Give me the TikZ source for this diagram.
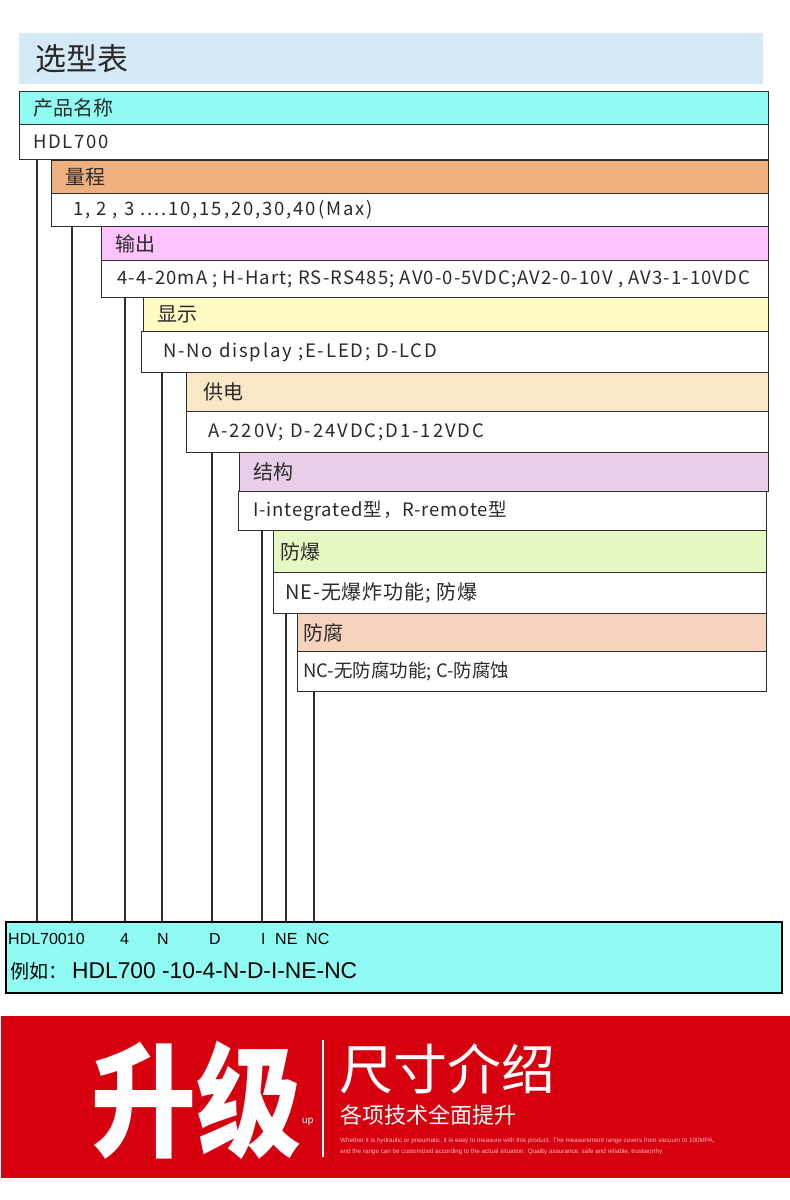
\documentclass[tikz,border=0pt]{standalone}
\usepackage{fontspec}
\setmainfont{Liberation Sans}
\newfontfamily\cjk{Noto Sans CJK SC}
\usetikzlibrary{positioning}

\definecolor{titlebg}{HTML}{D6E9F6}
\definecolor{cyanbg}{HTML}{8FFBF2}
\definecolor{orangebg}{HTML}{F0B07E}
\definecolor{pinkbg}{HTML}{FCC4FA}
\definecolor{yellowbg}{HTML}{FFFAC4}
\definecolor{beigebg}{HTML}{F9E8C6}
\definecolor{purplebg}{HTML}{E8CEE8}
\definecolor{greenbg}{HTML}{E6F8C2}
\definecolor{salmonbg}{HTML}{F7D2BE}
\definecolor{bannerred}{HTML}{D7000F}
\definecolor{cellline}{HTML}{2E2E2E}
\definecolor{txtgray}{HTML}{2A2A2A}
\definecolor{finepink}{HTML}{F6B8BC}

\begin{document}
\begin{tikzpicture}[
    x=1pt, y=-1pt,
    cell/.style={draw=cellline, line width=1.3pt, anchor=north west, inner sep=0pt},
    hdrtext/.style={anchor=west, inner sep=0pt, text=txtgray, font=\cjk\fontsize{20}{20}\selectfont},
    valtext/.style={anchor=west, inner sep=0pt, text=txtgray, font=\cjk\fontsize{18.5}{18.5}\selectfont\addfontfeatures{LetterSpace=#1}},
    valtext/.default=0,
    codetext/.style={anchor=west, inner sep=0pt, text=black, font=\fontsize{16}{16}\selectfont},
    wire/.style={draw=cellline, line width=1.4pt}
]

\useasboundingbox (0,0) rectangle (790,1200);
\fill[white] (0,0) rectangle (790,1200);

% title bar
\node[cell, draw=none, fill=titlebg, minimum width=744, minimum height=51] (title) at (18,32) {};
\node[hdrtext, font=\cjk\fontsize{31}{31}\selectfont] (titletxt) at (35,59) {选型表};

% selection table, one step per option
\node[cell, fill=cyanbg, minimum width=749, minimum height=33] (r1h) at (19,91) {};
\node[hdrtext] (r1ht) at ([xshift=14]r1h.west) {产品名称};
\node[cell, fill=white, minimum width=749, minimum height=35] (r1v) at (19,124) {};
\node[valtext=9] (r1vt) at ([xshift=14]r1v.west) {HDL700};

\node[cell, fill=orangebg, minimum width=717, minimum height=33] (r2h) at (51,160) {};
\node[hdrtext] (r2ht) at ([xshift=14]r2h.west) {量程};
\node[cell, fill=white, minimum width=717, minimum height=33] (r2v) at (51,193) {};
\node[valtext=10.2] (r2vt) at ([xshift=22]r2v.west) {1, 2 , 3 ....10,15,20,30,40(Max)};

\node[cell, fill=pinkbg, minimum width=667, minimum height=34] (r3h) at (101,226) {};
\node[hdrtext] (r3ht) at ([xshift=14]r3h.west) {输出};
\node[cell, fill=white, minimum width=667, minimum height=37] (r3v) at (101,260) {};
\node[valtext=6] (r3vt) at ([xshift=16]r3v.west) {4-4-20mA ; H-Hart; RS-RS485; AV0-0-5VDC;AV2-0-10V , AV3-1-10VDC};

\node[cell, fill=yellowbg, minimum width=625, minimum height=34] (r4h) at (143,297) {};
\node[hdrtext] (r4ht) at ([xshift=14]r4h.west) {显示};
\node[cell, fill=white, minimum width=627, minimum height=41] (r4v) at (141,331) {};
\node[valtext=10] (r4vt) at ([xshift=22]r4v.west) {N-No display ;E-LED; D-LCD};

\node[cell, fill=beigebg, minimum width=582, minimum height=39] (r5h) at (186,372) {};
\node[hdrtext] (r5ht) at ([xshift=17]r5h.west) {供电};
\node[cell, fill=white, minimum width=582, minimum height=41] (r5v) at (186,411) {};
\node[valtext=10.5] (r5vt) at ([xshift=22]r5v.west) {A-220V; D-24VDC;D1-12VDC};

\node[cell, fill=purplebg, minimum width=529, minimum height=39] (r6h) at (239,452) {};
\node[hdrtext] (r6ht) at ([xshift=14]r6h.west) {结构};
\node[cell, fill=white, minimum width=528, minimum height=39] (r6v) at (238,491) {};
\node[valtext=4.5] (r6vt) at ([xshift=15]r6v.west) {I-integrated型，R-remote型};

\node[cell, fill=greenbg, minimum width=493, minimum height=42] (r7h) at (273,530) {};
\node[hdrtext] (r7ht) at ([xshift=7]r7h.west) {防爆};
\node[cell, fill=white, minimum width=493, minimum height=41] (r7v) at (273,572) {};
\node[valtext, font=\cjk\fontsize{20}{20}\selectfont\addfontfeatures{LetterSpace=4.5}] (r7vt) at ([xshift=12]r7v.west) {NE-无爆炸功能; 防爆};

\node[cell, fill=salmonbg, minimum width=469, minimum height=38] (r8h) at (297,613) {};
\node[hdrtext] (r8ht) at ([xshift=6]r8h.west) {防腐};
\node[cell, fill=white, minimum width=469, minimum height=40] (r8v) at (297,651) {};
\node[valtext] (r8vt) at ([xshift=6]r8v.west) {NC-无防腐功能; C-防腐蚀};

% order code box
\node[cell, draw=black, line width=2.4pt, fill=cyanbg, minimum width=776, minimum height=71] (code) at (5,921) {};
\node[codetext] (c1) at (8,939) {HDL70010};
\node[codetext] (c2) at (120,939) {4};
\node[codetext] (c3) at (157,939) {N};
\node[codetext] (c4) at (209,939) {D};
\node[codetext] (c5) at (261,939) {I};
\node[codetext] (c6) at (275,939) {NE};
\node[codetext] (c7) at (306,939) {NC};
\node[codetext, font=\cjk\fontsize{19}{19}\selectfont] (eg) at (10,971) {例如：};
\node[codetext, font=\fontsize{22.8}{22.8}\selectfont] (egcode) at (72,971) {HDL700 -10-4-N-D-I-NE-NC};

% drop lines from each option down to the code
\coordinate (d1) at ([xshift=18]r1v.south west);
\coordinate (d2) at ([xshift=21]r2v.south west);
\coordinate (d3) at ([xshift=24]r3v.south west);
\coordinate (d4) at ([xshift=21]r4v.south west);
\coordinate (d5) at ([xshift=26]r5v.south west);
\coordinate (d6) at ([xshift=24]r6v.south west);
\coordinate (d7) at ([xshift=13]r7v.south west);
\coordinate (d8) at ([xshift=17]r8v.south west);
\foreach \d in {d1,d2,d3,d4,d5,d6,d7,d8}
    \draw[wire] (\d) -- (\d |- code.north);

% red banner
\node[cell, draw=none, fill=bannerred, minimum width=790, minimum height=162] (banner) at (0,1015) {};
\node[text=white, inner sep=0pt, xscale=0.92, yscale=1.08, font=\cjk\bfseries\fontsize{114}{114}\selectfont] (upgrade) at (196,1100) {升级};
\node[text=white, inner sep=0pt, anchor=west, font=\fontsize{10}{10}\selectfont] (up) at (302,1122) {up};
\draw[white, line width=1.2pt] (323,1040) -- (323,1157);
\node[text=white, inner sep=0pt, anchor=west, font=\cjk\fontsize{54}{54}\selectfont] (size) at (339,1069) {尺寸介绍};
\node[text=white, inner sep=0pt, anchor=west, font=\cjk\fontsize{22}{22}\selectfont] (sub) at (340,1115) {各项技术全面提升};
\node[text=finepink, inner sep=0pt, anchor=west, font=\fontsize{6.3}{6.3}\selectfont] (fine1) at (340,1141) {Whether it is hydraulic or pneumatic, it is easy to measure with this product. The measurement range covers from vacuum to 100MPA,};
\node[text=finepink, inner sep=0pt, anchor=west, font=\fontsize{6.3}{6.3}\selectfont] (fine2) at (340,1152) {and the range can be customized according to the actual situation. Quality assurance, safe and reliable, trustworthy};

\end{tikzpicture}
\end{document}
